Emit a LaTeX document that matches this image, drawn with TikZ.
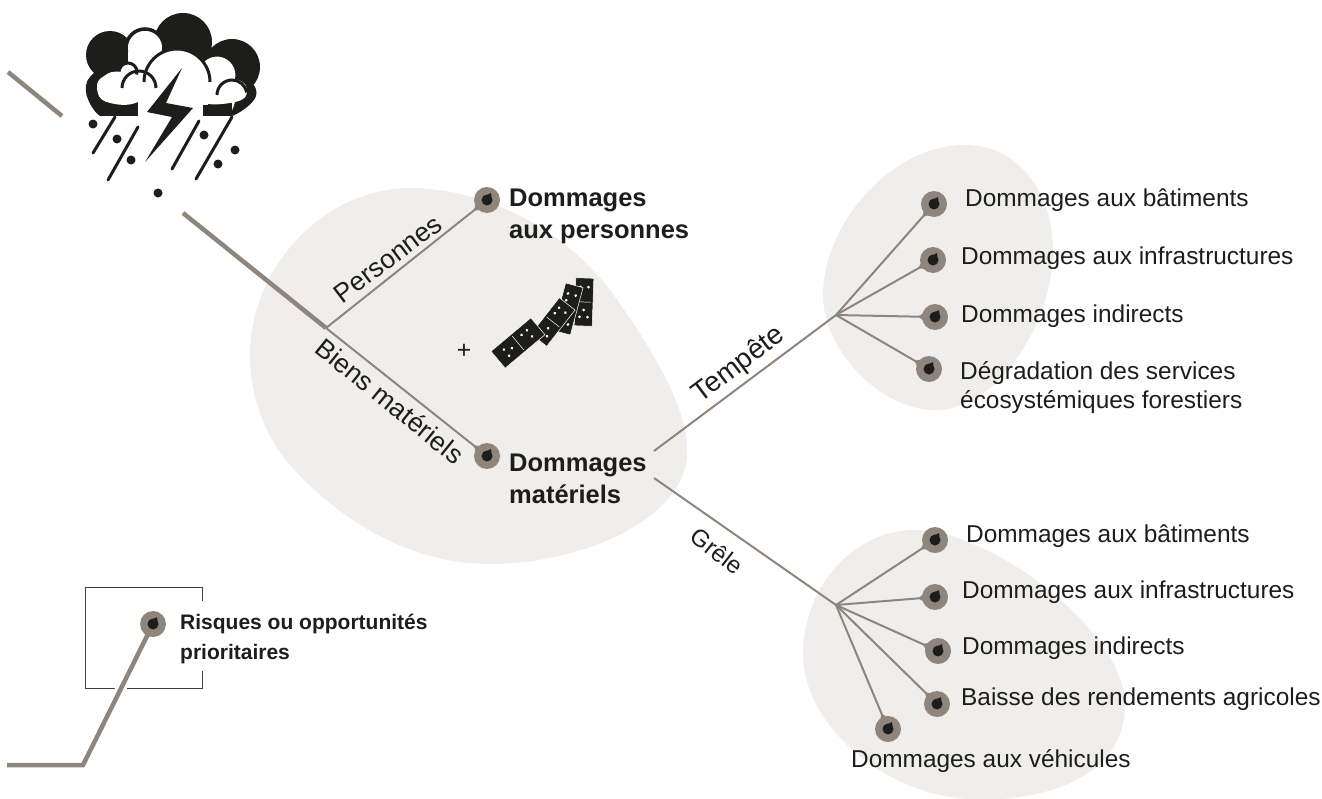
\documentclass[tikz,border=0pt]{standalone}
\usepackage{fontspec}
\setmainfont{Liberation Sans}
\usetikzlibrary{calc}
\definecolor{linegray}{HTML}{8E867C}
\definecolor{blobgray}{HTML}{EFEEEC}
\definecolor{inkblack}{HTML}{1D1D1B}
\begin{document}
\begin{tikzpicture}[x=1pt,y=-1pt]
  \tikzstyle{dropmark}=[circle, fill=linegray, minimum size=26pt, inner sep=0pt]
  \tikzstyle{connect}=[draw=linegray, line width=2pt]
  \tikzstyle{mainline}=[draw=linegray, line width=4.5pt]
  \tikzstyle{label}=[inner sep=0pt, anchor=west, text=inkblack, font=\fontsize{24.4}{30}\selectfont]
  \tikzstyle{bigtitle}=[label, font=\fontsize{25.5}{32}\selectfont\bfseries, align=left]
  \tikzstyle{branch}=[inner sep=0pt, text=inkblack, font=\fontsize{26.5}{30}\selectfont]
  \tikzstyle{domino}=[fill=inkblack, draw=white, line width=0.5pt, inner sep=0pt]
  \useasboundingbox (0,0) rectangle (1322,798);
  \clip (0,0) rectangle (1322,798);
  % blobs
  \fill[blobgray] (410,188) .. controls (480,188) and (560,225) .. (610,290) .. controls (650,345) and (690,410) .. (687,455) .. controls (684,520) and (580,564) .. (490,564) .. controls (400,564) and (330,510) .. (290,465) .. controls (255,425) and (245,370) .. (252,330) .. controls (265,250) and (335,188) .. (410,188);
  \fill[blobgray] (965,145) .. controls (1020,145) and (1053,195) .. (1053,250) .. controls (1053,320) and (1000,410) .. (935,410) .. controls (880,410) and (823,350) .. (823,295) .. controls (823,225) and (890,145) .. (965,145);
  \fill[blobgray] (915,530) .. controls (990,530) and (1125,630) .. (1125,705) .. controls (1125,770) and (1060,798) .. (985,800) .. controls (880,800) and (803,720) .. (803,655) .. controls (803,585) and (855,530) .. (915,530);
  % hubs
  \coordinate (start) at (8,72);
  \coordinate (startend) at (62,116);
  \coordinate (restart) at (183,213);
  \coordinate (fork) at (326,328);
  \coordinate (storm) at (654,451);
  \coordinate (hail) at (654,478);
  \coordinate (stormhub) at (836,315);
  \coordinate (hailhub) at (836,605);
  \coordinate (legstart) at (7,765);
  \coordinate (legbend) at (83,765);
  % marks
  \node[dropmark] (people) at (487,200) {};
  \node[dropmark] (goods) at (487,456) {};
  \node[dropmark] (s1) at (934,204) {};
  \node[dropmark] (s2) at (933,260) {};
  \node[dropmark] (s3) at (935,317) {};
  \node[dropmark] (s4) at (929,369) {};
  \node[dropmark] (h1) at (935,540) {};
  \node[dropmark] (h2) at (935,597) {};
  \node[dropmark] (h3) at (938,651) {};
  \node[dropmark] (h4) at (937,704) {};
  \node[dropmark] (h5) at (888,729) {};
  \node[dropmark] (legmark) at (153,624) {};
  % legend frame
  \draw[inkblack!85, line width=0.8pt] (202,601) -- (202,587) -- (85,587) -- (85,688) -- (115,688);
  \draw[inkblack!85, line width=0.8pt] (127,688) -- (202,688) -- (202,671);
  % lines
  \path[mainline] (start) -- (startend);
  \path[mainline] (restart) -- (fork);
  \path[connect] (fork) -- (people);
  \path[connect] (fork) -- (goods);
  \path[connect] (storm) -- (stormhub);
  \path[connect] (hail) -- (hailhub);
  \foreach \m in {s1,s2,s3,s4} \path[connect] (stormhub) -- (\m);
  \foreach \m in {h1,h2,h3,h4,h5} \path[connect] (hailhub) -- (\m);
  \path[mainline] (legstart) -- (legbend) -- (legmark);
  % mark tips
  \foreach \m/\h in {people/fork,goods/fork,s1/stormhub,s2/stormhub,s3/stormhub,s4/stormhub,h1/hailhub,h2/hailhub,h3/hailhub,h4/hailhub,h5/hailhub,legmark/legbend} {
    \fill[linegray] ($(\m)!17pt!(\h)$) -- ($(\m)!11.5pt!90:(\h)$) -- ($(\m)!11.5pt!-90:(\h)$) -- cycle;
    \fill[inkblack] (\m) circle (5.5pt);
    \fill[inkblack] ($(\m)+(4,-7)$) -- ($(\m)+(-4,-3)$) -- ($(\m)+(5,2)$) -- cycle;
  }
  % texts
  \node[label, font=\fontsize{21}{30}\selectfont\bfseries, align=left] (legtext) at (180,639) {Risques ou opportunités\\prioritaires};
  \node[bigtitle] (peopletext) at (509,216) {Dommages\\aux personnes};
  \node[bigtitle] (goodstext) at (509,479) {Dommages\\matériels};
  \node[branch, rotate=37] (personnes) at (388,259) {Personnes};
  \node[branch, rotate=-39] (biens) at (390,401) {Biens matériels};
  \node[branch, rotate=37, font=\fontsize{28}{30}\selectfont] (tempete) at (739,365) {Tempête};
  \node[branch, rotate=-38, font=\fontsize{24}{30}\selectfont] (grele) at (717,551) {Grêle};
  \node[label] (t1) at (965,200) {Dommages aux bâtiments};
  \node[label] (t2) at (961,258) {Dommages aux infrastructures};
  \node[label] (t3) at (961,316) {Dommages indirects};
  \node[label, align=left, font=\fontsize{24.4}{29}\selectfont] (t4) at (960,388) {Dégradation des services\\écosystémiques forestiers};
  \node[label] (g1) at (966,536) {Dommages aux bâtiments};
  \node[label] (g2) at (962,592) {Dommages aux infrastructures};
  \node[label] (g3) at (962,648) {Dommages indirects};
  \node[label] (g4) at (961,699) {Baisse des rendements agricoles};
  \node[label] (g5) at (851,761) {Dommages aux véhicules};
  \node[branch, font=\fontsize{24.7}{30}\selectfont] (plus) at (464,351) {+};
  % dominoes
  \foreach \x/\y/\a/\l/\w in {584/302/88/48/18, 568/309/75/49/18, 553/322/52/46/20, 518/343/40/52/22} {
    \begin{scope}[shift={(\x,\y)}, rotate=\a]
      \draw[domino] (-\l/2,\w/2) rectangle (\l/2,-\w/2);
      \draw[white, line width=0.5pt] (0,\w/2-2) -- (0,-\w/2+2);
      \foreach \dx/\dy in {-15/-4,-8/0,-15/4,8/-4,15/4,15/-4}
        \fill[white] (\dx,\dy) circle (1.5pt);
    \end{scope}
  }
  % storm cloud
  \fill[inkblack] (110,55) circle (24pt) (183,42) circle (29pt) (232,67) circle (28pt);
  \draw[inkblack, fill=white, line width=3.5pt] (145,48) circle (19pt);
  \draw[inkblack, fill=white, line width=3pt] (217,75) circle (20pt);
  \fill[white] (128,52) rectangle (172,90);
  \draw[inkblack, fill=white, line width=3pt] (128,72) circle (9pt);
  \fill[inkblack] plot[smooth cycle, tension=0.8] coordinates {(100,116) (86,92) (95,72) (118,64) (120,72) (105,102)};
  \fill[inkblack] (100,102) rectangle (138,116);
  \fill[inkblack] plot[smooth cycle, tension=0.8] coordinates {(232,116) (256,96) (245,76) (238,82) (235,102)};
  \fill[inkblack] (203,102) rectangle (232,116);
  \fill[white] plot[smooth cycle, tension=0.8] coordinates {(107,102) (97,88) (104,76) (122,72) (150,82) (138,102)};
  \fill[white] plot[smooth cycle, tension=0.8] coordinates {(235,102) (247,92) (238,80) (215,84) (203,102)};
  \fill[white] (138,84) rectangle (203,125);
  \draw[inkblack, line width=3pt, fill=white] (144,82) arc (180:0:33pt);
  \fill[white] (146,80) rectangle (208,105);
  \draw[inkblack, line width=3pt] (122,88) arc (180:0:17pt);
  \draw[inkblack, line width=3pt] (217,95) arc (180:10:15pt);
  \fill[inkblack] (182,68) -- (147,112) -- (172,117) -- (145,162) -- (193,108) -- (166,103) -- cycle;
  \foreach \xa/\ya/\xb/\yb in {115/117/93/153, 138/127/108/180, 199/121/172/169, 232/117/196/179}
    \draw[inkblack, line width=3pt, line cap=round] (\xa,\ya) -- (\xb,\yb);
  \foreach \x/\y in {93/124, 117/139, 131/160, 204/135, 218/164, 235/150, 158/193}
    \fill[inkblack] (\x,\y) circle (4.5pt);
\end{tikzpicture}
\end{document}
